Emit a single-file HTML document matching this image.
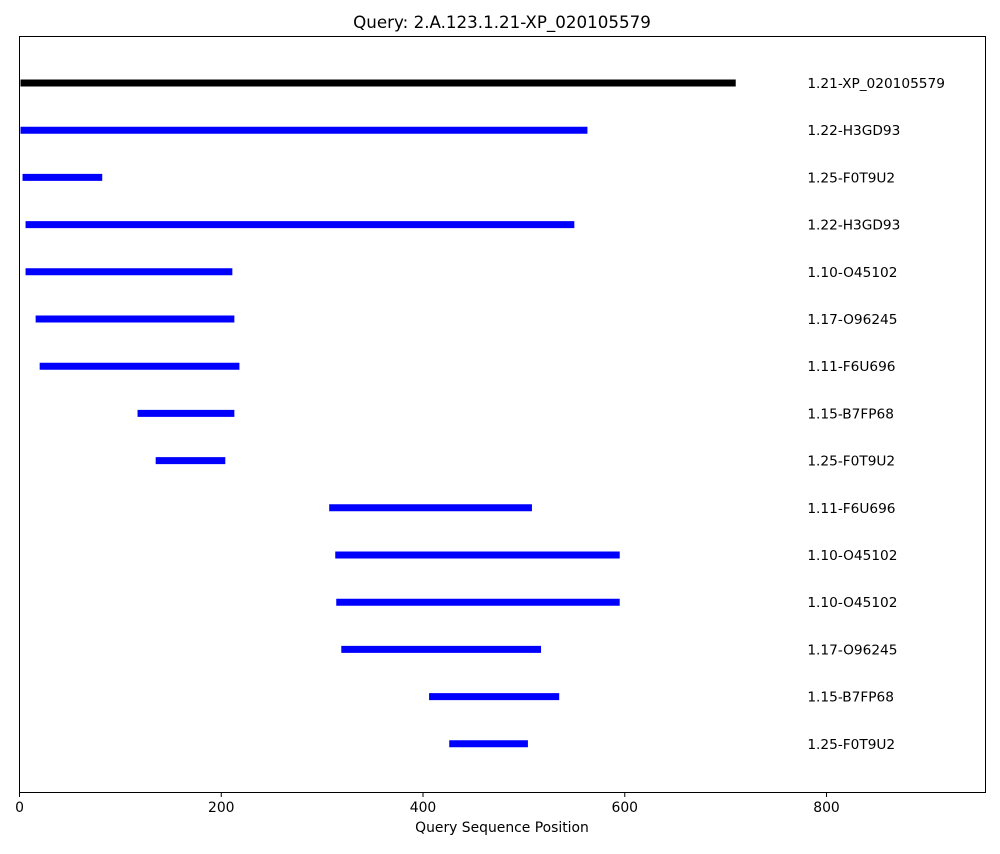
<!DOCTYPE html>
<html><head><meta charset="utf-8"><style>
body{margin:0;background:#fff;font-family:"DejaVu Sans","Liberation Sans",sans-serif;}
svg text{font-family:"DejaVu Sans","Liberation Sans",sans-serif;}
</style></head><body>
<svg id="chart" width="1000" height="850" xmlns="http://www.w3.org/2000/svg">
<text x="502" y="28" text-anchor="middle" font-size="16.7" fill="#000">Query: 2.A.123.1.21-XP_020105579</text>
<rect x="19.5" y="36.5" width="966" height="756" fill="none" stroke="#000" stroke-width="1"/>
<g id="marks"></g>
<g id="ticks"></g>
<text x="502" y="832" text-anchor="middle" font-size="13.9">Query Sequence Position</text>
</svg>
<script>
const labels=["1.21-XP_020105579","1.22-H3GD93","1.25-F0T9U2","1.22-H3GD93","1.10-O45102","1.17-O96245","1.11-F6U696","1.15-B7FP68","1.25-F0T9U2","1.11-F6U696","1.10-O45102","1.10-O45102","1.17-O96245","1.15-B7FP68","1.25-F0T9U2"];
const starts=[1,1,3,6,6,16,20,117,135,307,313,314,319,406,426];
const ends=[710,563,82,550,211,213,218,213,204,508,595,595,517,535,504];
const xTicks=[0,200,400,600,800];
const ns="http://www.w3.org/2000/svg";
const X=v=>19.5+v*(966/957.6);
const Y=i=>83+i*47.2;
const m=document.getElementById("marks");
for(let i=0;i<labels.length;i++){
  const l=document.createElementNS(ns,"line");
  l.setAttribute("x1",X(starts[i]));l.setAttribute("x2",X(ends[i]));
  l.setAttribute("y1",Y(i));l.setAttribute("y2",Y(i));
  l.setAttribute("stroke",i===0?"#000":"#0000ff");l.setAttribute("stroke-width","7");
  
  
  m.appendChild(l);
  const t=document.createElementNS(ns,"text");
  t.setAttribute("x",X(781));t.setAttribute("y",Y(i)+5);t.setAttribute("font-size","13.7");
  t.textContent=labels[i];
  
  
  m.appendChild(t);
}
const tg=document.getElementById("ticks");
xTicks.forEach(v=>{
  const l=document.createElementNS(ns,"line");
  l.setAttribute("x1",X(v));l.setAttribute("x2",X(v));l.setAttribute("y1",792);l.setAttribute("y2",797);
  l.setAttribute("stroke","#000");
  
  
  tg.appendChild(l);
  const t=document.createElementNS(ns,"text");
  t.setAttribute("x",X(v));t.setAttribute("y",812);t.setAttribute("text-anchor","middle");t.setAttribute("font-size","13.9");
  t.textContent=v;
  
  
  tg.appendChild(t);
});
</script>
</body></html>
